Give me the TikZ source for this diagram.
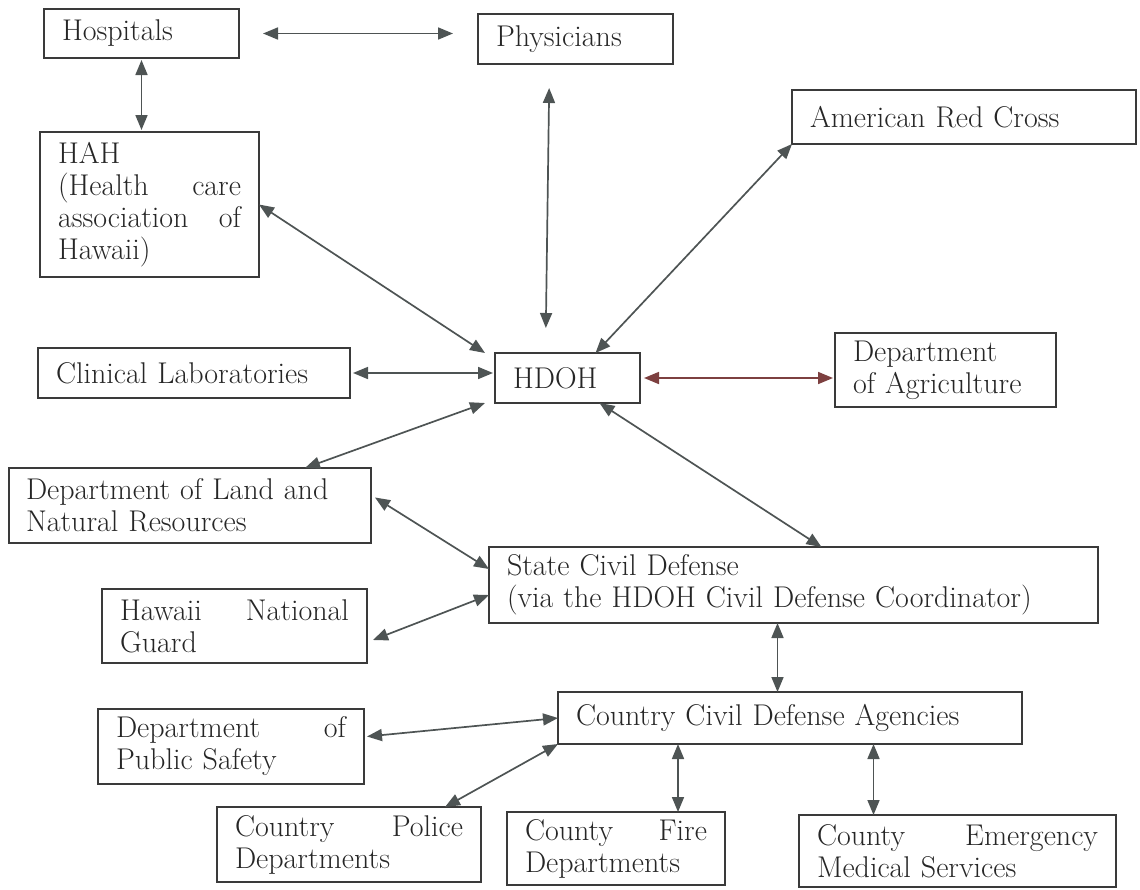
\documentclass[tikz,border=0pt]{standalone}
\usepackage{tikz}
\usetikzlibrary{arrows.meta}

\definecolor{inkgray}{HTML}{4E5454}
\definecolor{inkred}{HTML}{7D4040}
\definecolor{boxline}{HTML}{3A3A3A}

\begin{document}
\begin{tikzpicture}[x=0.5pt,y=-0.5pt,
  agency/.style={draw=boxline, line width=0.9pt, rectangle, anchor=north west,
    inner xsep=9pt, inner ysep=0pt, outer sep=0pt, align=left, text=black!85,
    font=\fontsize{15}{16}\selectfont},
  link/.style={{Triangle[length=7.5pt,width=6pt]}-{Triangle[length=7.5pt,width=6pt]},
    draw=inkgray, line width=0.85pt}]
   \useasboundingbox (0,0) rectangle (1140,889);

   \node[agency, minimum width=97.5pt, minimum height=24.5pt, text width=79.5pt]  (HOSP) at (44,9)   {Hospitals} ; %
   \node[agency, minimum width=97.5pt, minimum height=25pt, text width=79.5pt]    (PHYS) at (478,14) {Physicians} ; %
   \node[agency, minimum width=172pt, minimum height=27pt, text width=154pt]      (ARC)  at (792,90) {American Red Cross} ; %
   \node[agency, minimum width=109.5pt, minimum height=72.5pt, text width=91.5pt] (HAH)  at (40,132) {HAH\\(Health\hfill care\\association\hfill of\\Hawaii)} ; %
   \node[agency, minimum width=156pt, minimum height=25pt, text width=138pt]      (LAB)  at (38,348) {Clinical Laboratories} ; %
   \node[agency, minimum width=72.5pt, minimum height=25pt, text width=54.5pt]    (HDOH) at (495,353) {HDOH} ; %
   \node[agency, minimum width=110.5pt, minimum height=37pt, text width=92.5pt]   (AGR)  at (835,333) {Department\\of Agriculture} ; %
   \node[agency, inner xsep=8.5pt, minimum width=181pt, minimum height=37.5pt, text width=164pt] (DLNR) at (9,468) {Department of Land and\\Natural Resources} ; %
   \node[agency, minimum width=304.5pt, minimum height=38pt, text width=286.5pt]  (SCD)  at (489,547) {State Civil Defense\\(via the HDOH Civil Defense Coordinator)} ; %
   \node[agency, minimum width=132.5pt, minimum height=37pt, text width=114.5pt]  (HNG)  at (102,589) {Hawaii\hfill National\\Guard} ; %
   \node[agency, minimum width=232pt, minimum height=26pt, text width=214pt]      (CCD)  at (558,692) {Country Civil Defense Agencies} ; %
   \node[agency, minimum width=133pt, minimum height=37.5pt, text width=115pt]    (DPS)  at (98,709) {Department\hfill of\\Public Safety} ; %
   \node[agency, minimum width=132pt, minimum height=37.5pt, text width=114pt]    (POL)  at (217,807) {Country\hfill Police\\Departments} ; %
   \node[agency, minimum width=109pt, minimum height=36.5pt, text width=91pt]     (FIRE) at (507,812) {County\hfill Fire\\Departments} ; %
   \node[agency, minimum width=158.5pt, minimum height=36pt, text width=140.5pt]  (EMS)  at (799,815) {County\hfill Emergency\\Medical Services} ; %

  % links around HDOH
  \draw[link, shorten <=12pt, shorten >=12.5pt] (HOSP.east) -- (HOSP.east -| PHYS.west) ;
  \draw[link, shorten <=1pt, shorten >=1pt] (HOSP.south) -- (HOSP.south |- HAH.north) ;
  \draw[link, shorten <=12pt, shorten >=12.5pt] ([xshift=-13pt]PHYS.south) -- ([xshift=-11pt]HDOH.north) ;
  \draw[link] (HAH.east) -- ([xshift=-5pt]HDOH.north west) ;
  \draw[link] (ARC.south west) -- ([xshift=14pt]HDOH.north) ;
  \draw[link, shorten <=1.5pt, shorten >=1pt] (LAB.east) -- (LAB.east -| HDOH.west) ;
  \draw[link, draw=inkred, shorten <=2pt, shorten >=1pt] (HDOH.east) -- (HDOH.east -| AGR.west) ;
  \draw[link] ([xshift=-5pt]HDOH.south west) -- ([xshift=-33pt]DLNR.north east) ;
  \draw[link] ([xshift=16pt]HDOH.south) -- ([xshift=14pt]SCD.north) ;

  % civil defense links
  \draw[link] ([xshift=2pt,yshift=4pt]DLNR.east) -- ([yshift=8pt]SCD.west) ;
  \draw[link] ([xshift=3pt,yshift=-7pt]HNG.east) -- ([yshift=-5pt]SCD.west) ;
  \draw[link] ([xshift=-8pt]SCD.south) -- ([xshift=-8pt]SCD.south |- CCD.north) ;
  \draw[link] ([xshift=1.5pt,yshift=5pt]DPS.east) -- (CCD.west) ;
  \draw[link] ([xshift=-18pt]POL.north east) -- (CCD.south west) ;
  \draw[link] ([xshift=31pt]FIRE.north) -- ([xshift=31pt]FIRE.north |- CCD.south) ;
  \draw[link] ([xshift=-42pt]EMS.north) -- ([xshift=-42pt]EMS.north |- CCD.south) ;

\end{tikzpicture}
\end{document}
